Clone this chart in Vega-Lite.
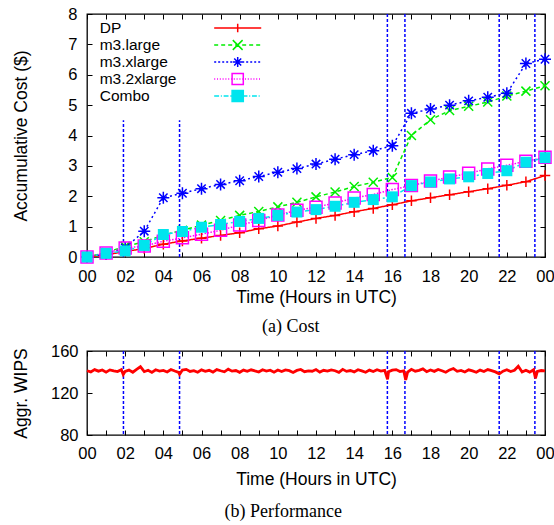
{
  "$schema": "https://vega.github.io/schema/vega-lite/v6.json",
  "background": "white",
  "padding": {"left": 11, "top": 5, "right": 0, "bottom": 0},
  "spacing": 5,
  "resolve": {"scale": {"shape": "independent", "color": "independent", "strokeDash": "independent", "stroke": "independent", "fill": "independent"}, "legend": {"shape": "independent", "color": "independent", "stroke": "independent", "fill": "independent"}},
  "datasets": {
    "cost": [
      {"hour":0,"series":"DP","cost":0},{"hour":1,"series":"DP","cost":0.07},{"hour":2,"series":"DP","cost":0.18},{"hour":3,"series":"DP","cost":0.28},{"hour":4,"series":"DP","cost":0.42},{"hour":5,"series":"DP","cost":0.53},{"hour":6,"series":"DP","cost":0.62},{"hour":7,"series":"DP","cost":0.71},{"hour":8,"series":"DP","cost":0.8},{"hour":9,"series":"DP","cost":0.93},{"hour":10,"series":"DP","cost":1.02},{"hour":11,"series":"DP","cost":1.15},{"hour":12,"series":"DP","cost":1.27},{"hour":13,"series":"DP","cost":1.37},{"hour":14,"series":"DP","cost":1.49},{"hour":15,"series":"DP","cost":1.6},{"hour":16,"series":"DP","cost":1.72},{"hour":17,"series":"DP","cost":1.85},{"hour":18,"series":"DP","cost":1.95},{"hour":19,"series":"DP","cost":2.05},{"hour":20,"series":"DP","cost":2.15},{"hour":21,"series":"DP","cost":2.25},{"hour":22,"series":"DP","cost":2.36},{"hour":23,"series":"DP","cost":2.48},{"hour":24,"series":"DP","cost":2.68},
      {"hour":0,"series":"m3.large","cost":0},{"hour":1,"series":"m3.large","cost":0.15},{"hour":2,"series":"m3.large","cost":0.35},{"hour":3,"series":"m3.large","cost":0.5},{"hour":4,"series":"m3.large","cost":0.72},{"hour":5,"series":"m3.large","cost":0.88},{"hour":6,"series":"m3.large","cost":1.05},{"hour":7,"series":"m3.large","cost":1.2},{"hour":8,"series":"m3.large","cost":1.37},{"hour":9,"series":"m3.large","cost":1.5},{"hour":10,"series":"m3.large","cost":1.65},{"hour":11,"series":"m3.large","cost":1.8},{"hour":12,"series":"m3.large","cost":1.98},{"hour":13,"series":"m3.large","cost":2.14},{"hour":14,"series":"m3.large","cost":2.32},{"hour":15,"series":"m3.large","cost":2.46},{"hour":16,"series":"m3.large","cost":2.62},{"hour":17,"series":"m3.large","cost":4.0},{"hour":18,"series":"m3.large","cost":4.52},{"hour":19,"series":"m3.large","cost":4.82},{"hour":20,"series":"m3.large","cost":4.96},{"hour":21,"series":"m3.large","cost":5.1},{"hour":22,"series":"m3.large","cost":5.3},{"hour":23,"series":"m3.large","cost":5.46},{"hour":24,"series":"m3.large","cost":5.64},
      {"hour":0,"series":"m3.xlarge","cost":0},{"hour":1,"series":"m3.xlarge","cost":0.1},{"hour":2,"series":"m3.xlarge","cost":0.3},{"hour":3,"series":"m3.xlarge","cost":0.85},{"hour":4,"series":"m3.xlarge","cost":1.95},{"hour":5,"series":"m3.xlarge","cost":2.1},{"hour":6,"series":"m3.xlarge","cost":2.25},{"hour":7,"series":"m3.xlarge","cost":2.39},{"hour":8,"series":"m3.xlarge","cost":2.51},{"hour":9,"series":"m3.xlarge","cost":2.65},{"hour":10,"series":"m3.xlarge","cost":2.79},{"hour":11,"series":"m3.xlarge","cost":2.91},{"hour":12,"series":"m3.xlarge","cost":3.06},{"hour":13,"series":"m3.xlarge","cost":3.22},{"hour":14,"series":"m3.xlarge","cost":3.37},{"hour":15,"series":"m3.xlarge","cost":3.5},{"hour":16,"series":"m3.xlarge","cost":3.66},{"hour":17,"series":"m3.xlarge","cost":4.73},{"hour":18,"series":"m3.xlarge","cost":4.87},{"hour":19,"series":"m3.xlarge","cost":5.0},{"hour":20,"series":"m3.xlarge","cost":5.14},{"hour":21,"series":"m3.xlarge","cost":5.26},{"hour":22,"series":"m3.xlarge","cost":5.39},{"hour":23,"series":"m3.xlarge","cost":6.37},{"hour":24,"series":"m3.xlarge","cost":6.51},
      {"hour":0,"series":"m3.2xlarge","cost":0},{"hour":1,"series":"m3.2xlarge","cost":0.13},{"hour":2,"series":"m3.2xlarge","cost":0.3},{"hour":3,"series":"m3.2xlarge","cost":0.36},{"hour":4,"series":"m3.2xlarge","cost":0.52},{"hour":5,"series":"m3.2xlarge","cost":0.63},{"hour":6,"series":"m3.2xlarge","cost":0.75},{"hour":7,"series":"m3.2xlarge","cost":0.88},{"hour":8,"series":"m3.2xlarge","cost":1.05},{"hour":9,"series":"m3.2xlarge","cost":1.2},{"hour":10,"series":"m3.2xlarge","cost":1.38},{"hour":11,"series":"m3.2xlarge","cost":1.54},{"hour":12,"series":"m3.2xlarge","cost":1.64},{"hour":13,"series":"m3.2xlarge","cost":1.78},{"hour":14,"series":"m3.2xlarge","cost":1.94},{"hour":15,"series":"m3.2xlarge","cost":2.06},{"hour":16,"series":"m3.2xlarge","cost":2.22},{"hour":17,"series":"m3.2xlarge","cost":2.35},{"hour":18,"series":"m3.2xlarge","cost":2.5},{"hour":19,"series":"m3.2xlarge","cost":2.63},{"hour":20,"series":"m3.2xlarge","cost":2.76},{"hour":21,"series":"m3.2xlarge","cost":2.9},{"hour":22,"series":"m3.2xlarge","cost":3.02},{"hour":23,"series":"m3.2xlarge","cost":3.15},{"hour":24,"series":"m3.2xlarge","cost":3.28},
      {"hour":0,"series":"Combo","cost":0},{"hour":1,"series":"Combo","cost":0.12},{"hour":2,"series":"Combo","cost":0.2},{"hour":3,"series":"Combo","cost":0.38},{"hour":4,"series":"Combo","cost":0.74},{"hour":5,"series":"Combo","cost":0.84},{"hour":6,"series":"Combo","cost":0.98},{"hour":7,"series":"Combo","cost":1.07},{"hour":8,"series":"Combo","cost":1.17},{"hour":9,"series":"Combo","cost":1.27},{"hour":10,"series":"Combo","cost":1.37},{"hour":11,"series":"Combo","cost":1.48},{"hour":12,"series":"Combo","cost":1.56},{"hour":13,"series":"Combo","cost":1.67},{"hour":14,"series":"Combo","cost":1.8},{"hour":15,"series":"Combo","cost":1.89},{"hour":16,"series":"Combo","cost":1.98},{"hour":17,"series":"Combo","cost":2.35},{"hour":18,"series":"Combo","cost":2.47},{"hour":19,"series":"Combo","cost":2.57},{"hour":20,"series":"Combo","cost":2.64},{"hour":21,"series":"Combo","cost":2.75},{"hour":22,"series":"Combo","cost":2.84},{"hour":23,"series":"Combo","cost":3.12},{"hour":24,"series":"Combo","cost":3.27}
    ],
    "events": [
      {"hour":1.91,"base":0,"top":4.5},{"hour":4.85,"base":0,"top":4.5},{"hour":15.74,"base":0,"top":8},{"hour":16.66,"base":0,"top":8},{"hour":21.6,"base":0,"top":8},{"hour":23.47,"base":0,"top":8}
    ],
    "wips": [
      {"hour":0,"wips":141.2},{"hour":0.2,"wips":140.1},{"hour":0.4,"wips":142.3},{"hour":0.6,"wips":140.8},{"hour":0.8,"wips":141.9},{"hour":1.0,"wips":139.9},{"hour":1.2,"wips":142.0},{"hour":1.4,"wips":141.1},{"hour":1.6,"wips":140.4},{"hour":1.8,"wips":142.2},{"hour":1.9,"wips":137.5},
      {"hour":2.0,"wips":140.6},{"hour":2.2,"wips":141.8},{"hour":2.4,"wips":139.8},{"hour":2.6,"wips":142.6},{"hour":2.8,"wips":145.0},{"hour":3.0,"wips":140.3},{"hour":3.2,"wips":141.7},{"hour":3.4,"wips":139.6},{"hour":3.6,"wips":142.1},{"hour":3.8,"wips":140.9},
      {"hour":4.0,"wips":141.5},{"hour":4.2,"wips":140.0},{"hour":4.4,"wips":142.4},{"hour":4.6,"wips":141.0},{"hour":4.8,"wips":139.7},{"hour":4.85,"wips":137.8},{"hour":5.0,"wips":141.9},{"hour":5.2,"wips":142.5},{"hour":5.4,"wips":140.5},{"hour":5.6,"wips":141.3},{"hour":5.8,"wips":139.8},
      {"hour":6.0,"wips":142.0},{"hour":6.2,"wips":140.7},{"hour":6.4,"wips":141.6},{"hour":6.6,"wips":139.9},{"hour":6.8,"wips":142.3},{"hour":7.0,"wips":141.2},{"hour":7.2,"wips":140.2},{"hour":7.4,"wips":142.7},{"hour":7.6,"wips":140.8},{"hour":7.8,"wips":141.4},
      {"hour":8.0,"wips":139.7},{"hour":8.2,"wips":141.8},{"hour":8.4,"wips":140.6},{"hour":8.6,"wips":142.1},{"hour":8.8,"wips":141.0},{"hour":9.0,"wips":140.0},{"hour":9.2,"wips":142.2},{"hour":9.4,"wips":140.9},{"hour":9.6,"wips":141.7},{"hour":9.8,"wips":139.8},
      {"hour":10.0,"wips":141.9},{"hour":10.2,"wips":140.4},{"hour":10.4,"wips":142.0},{"hour":10.6,"wips":141.3},{"hour":10.8,"wips":139.6},{"hour":11.0,"wips":141.5},{"hour":11.2,"wips":142.4},{"hour":11.4,"wips":140.3},{"hour":11.6,"wips":141.1},{"hour":11.8,"wips":140.7},
      {"hour":12.0,"wips":142.3},{"hour":12.2,"wips":139.9},{"hour":12.4,"wips":141.6},{"hour":12.6,"wips":140.8},{"hour":12.8,"wips":142.0},{"hour":13.0,"wips":141.2},{"hour":13.2,"wips":139.7},{"hour":13.4,"wips":142.5},{"hour":13.6,"wips":140.6},{"hour":13.8,"wips":141.4},
      {"hour":14.0,"wips":140.1},{"hour":14.2,"wips":142.2},{"hour":14.4,"wips":141.0},{"hour":14.6,"wips":139.8},{"hour":14.8,"wips":141.8},{"hour":15.0,"wips":140.5},{"hour":15.2,"wips":142.1},{"hour":15.4,"wips":140.9},{"hour":15.6,"wips":141.5},{"hour":15.75,"wips":133.0},{"hour":15.8,"wips":140.2},
      {"hour":16.0,"wips":141.7},{"hour":16.2,"wips":142.3},{"hour":16.4,"wips":140.4},{"hour":16.6,"wips":141.1},{"hour":16.7,"wips":132.5},{"hour":16.8,"wips":139.9},{"hour":17.0,"wips":142.6},{"hour":17.2,"wips":140.8},{"hour":17.4,"wips":141.6},{"hour":17.6,"wips":143.0},{"hour":17.8,"wips":140.3},
      {"hour":18.0,"wips":141.9},{"hour":18.2,"wips":140.6},{"hour":18.4,"wips":142.4},{"hour":18.6,"wips":141.2},{"hour":18.8,"wips":139.8},{"hour":19.0,"wips":142.0},{"hour":19.2,"wips":143.3},{"hour":19.4,"wips":140.7},{"hour":19.6,"wips":141.5},{"hour":19.8,"wips":140.0},
      {"hour":20.0,"wips":142.1},{"hour":20.2,"wips":141.0},{"hour":20.4,"wips":139.7},{"hour":20.6,"wips":141.8},{"hour":20.8,"wips":140.5},{"hour":21.0,"wips":142.3},{"hour":21.2,"wips":141.3},{"hour":21.4,"wips":140.1},{"hour":21.6,"wips":138.3},{"hour":21.8,"wips":140.8},
      {"hour":22.0,"wips":142.2},{"hour":22.2,"wips":140.4},{"hour":22.4,"wips":141.6},{"hour":22.6,"wips":145.5},{"hour":22.8,"wips":140.0},{"hour":23.0,"wips":141.7},{"hour":23.2,"wips":139.9},{"hour":23.4,"wips":142.1},{"hour":23.5,"wips":134.0},{"hour":23.6,"wips":140.6},{"hour":23.8,"wips":141.4},{"hour":24.0,"wips":141.0}
    ]
  },
  "vconcat": [
    {
      "width": 458,
      "height": 243,
      "title": {"text": "(a) Cost", "orient": "bottom", "anchor": "middle", "frame": "bounds", "font": "Liberation Serif", "fontSize": 18, "fontWeight": "normal", "color": "black", "offset": 12},
      "layer": [
        {
          "data": {"name": "events"},
          "mark": {"type": "rule", "color": "#0000ff", "strokeDash": [3, 2], "strokeWidth": 1.5},
          "encoding": {
            "x": {"field": "hour", "type": "quantitative", "scale": {"domain": [0, 24], "nice": false, "zero": false},
              "axis": {"orient": "bottom", "values": [0,1,2,3,4,5,6,7,8,9,10,11,12,13,14,15,16,17,18,19,20,21,22,23,24], "labelExpr": "datum.value % 2 ? '' : ((datum.value % 24) < 10 ? '0' : '') + (datum.value % 24)", "labelFlush": false, "labelOverlap": false, "labelPadding": 16, "title": "Time (Hours in UTC)", "titlePadding": 4}},
            "y": {"field": "base", "type": "quantitative", "scale": {"domain": [0, 8], "nice": false},
              "axis": {"orient": "left", "values": [0,1,2,3,4,5,6,7,8], "labelFlush": false, "labelOverlap": false, "labelPadding": 15, "title": "Accumulative Cost ($)", "titlePadding": 37}},
            "y2": {"field": "top"}
          }
        },
        {
          "data": {"name": "cost"},
          "mark": {"type": "line", "strokeWidth": 1.5},
          "encoding": {
            "x": {"field": "hour", "type": "quantitative", "axis": {"orient": "top", "values": [0,1,2,3,4,5,6,7,8,9,10,11,12,13,14,15,16,17,18,19,20,21,22,23,24], "labels": false, "title": null}},
            "y": {"field": "cost", "type": "quantitative", "axis": {"orient": "right", "values": [0,1,2,3,4,5,6,7,8], "labels": false, "title": null}},
            "color": {"field": "series", "type": "nominal", "scale": {"domain": ["Combo", "m3.2xlarge", "m3.xlarge", "m3.large", "DP"], "range": ["#00e5ee", "#ff00ff", "#0000ff", "#00ee00", "#ff0000"]}, "legend": null},
            "strokeDash": {"field": "series", "type": "nominal", "scale": {"domain": ["m3.large", "DP", "Combo", "m3.xlarge", "m3.2xlarge"], "range": [[4, 3], [1, 0], [6, 3, 2, 3], [2, 3], [1.5, 1.5]]}, "legend": null}
          }
        },
        {
          "data": {"name": "cost"},
          "transform": [{"filter": "datum.series === 'DP'"}],
          "mark": {"type": "point", "shape": "M-1,0H1M0,-1V1", "filled": false, "color": "#ff0000", "strokeWidth": 1.5, "size": 110, "opacity": 1},
          "encoding": {
            "x": {"field": "hour", "type": "quantitative", "axis": null},
            "y": {"field": "cost", "type": "quantitative", "axis": null}
          }
        },
        {
          "data": {"name": "cost"},
          "transform": [{"filter": "datum.series === 'm3.large'"}],
          "mark": {"type": "point", "shape": "M-1,-1L1,1M-1,1L1,-1", "filled": false, "color": "#00ee00", "strokeWidth": 1.5, "size": 81, "opacity": 1},
          "encoding": {
            "x": {"field": "hour", "type": "quantitative", "axis": null},
            "y": {"field": "cost", "type": "quantitative", "axis": null}
          }
        },
        {
          "data": {"name": "cost"},
          "transform": [{"filter": "datum.series === 'm3.xlarge'"}],
          "mark": {"type": "point", "shape": "M-1,0H1M0,-1V1M-0.7,-0.7L0.7,0.7M-0.7,0.7L0.7,-0.7", "filled": false, "color": "#0000ff", "strokeWidth": 1.5, "size": 144, "opacity": 1},
          "encoding": {
            "x": {"field": "hour", "type": "quantitative", "axis": null},
            "y": {"field": "cost", "type": "quantitative", "axis": null}
          }
        },
        {
          "data": {"name": "cost"},
          "transform": [{"filter": "datum.series === 'm3.2xlarge'"}],
          "mark": {"type": "point", "shape": "M-1,-1H1V1H-1Z", "filled": false, "color": "#ff00ff", "strokeWidth": 1.5, "size": 144, "opacity": 1},
          "encoding": {
            "x": {"field": "hour", "type": "quantitative", "axis": null},
            "y": {"field": "cost", "type": "quantitative", "axis": null}
          }
        },
        {
          "data": {"name": "cost"},
          "transform": [{"filter": "datum.series === 'Combo'"}],
          "mark": {"type": "point", "shape": "square", "filled": true, "color": "#00e5ee", "size": 121, "opacity": 1},
          "encoding": {
            "x": {"field": "hour", "type": "quantitative", "axis": null},
            "y": {"field": "cost", "type": "quantitative", "axis": null}
          }
        },
        {
          "data": {"name": "cost"},
          "mark": {"type": "point", "filled": false, "size": 196, "opacity": 0},
          "encoding": {
            "x": {"field": "hour", "type": "quantitative", "axis": null},
            "y": {"field": "cost", "type": "quantitative", "axis": null},
            "stroke": {"field": "series", "type": "nominal",
              "scale": {"domain": ["DP", "m3.large", "m3.xlarge", "m3.2xlarge", "Combo"], "range": ["#ff0000", "#00ee00", "#0000ff", "#ff00ff", "#00e5ee"]}},
            "fill": {"field": "series", "type": "nominal",
              "scale": {"domain": ["DP", "m3.large", "m3.xlarge", "m3.2xlarge", "Combo"], "range": ["transparent", "transparent", "transparent", "transparent", "#00e5ee"]}},
            "shape": {"field": "series", "type": "nominal",
              "scale": {"domain": ["DP", "m3.large", "m3.xlarge", "m3.2xlarge", "Combo"],
                "range": [
                  "M-3.36,0H3.36M0,-0.6V0.6",
                  "M-3.36,0H-2.79M-2.36,0H-1.79M-1.36,0H-0.79M-0.36,0H0.21M0.64,0H1.21M1.64,0H2.21M2.64,0H3.21M-0.7,-0.7L0.7,0.7M-0.7,0.7L0.7,-0.7",
                  "M-3.36,0H-3.07M-2.79,0H-2.5M-2.21,0H-1.93M-1.64,0H-1.36M-1.07,0H-0.79M-0.5,0H-0.21M0.07,0H0.36M0.64,0H0.93M1.21,0H1.5M1.79,0H2.07M2.36,0H2.64M2.93,0H3.21M-0.7,0H0.7M0,-0.7V0.7M-0.5,-0.5L0.5,0.5M-0.5,0.5L0.5,-0.5",
                  "M-3.36,0H-3.21M-2.96,0H-2.81M-2.56,0H-2.41M-2.16,0H-2.01M-1.76,0H-1.61M-1.36,0H-1.21M-0.96,0H-0.81M-0.56,0H-0.41M-0.16,0H-0.01M0.24,0H0.39M0.64,0H0.79M1.04,0H1.19M1.44,0H1.59M1.84,0H1.99M2.24,0H2.39M2.64,0H2.79M3.04,0H3.19M-0.8,-0.8H0.8V0.8H-0.8Z",
                  "M-3.36,0H-2.66M-2.41,0H-2.26M-2.01,0H-1.31M-1.06,0H-0.91M-0.66,0H0.04M0.29,0H0.44M0.69,0H1.39M1.64,0H1.79M2.04,0H2.74M2.99,0H3.14M-0.8,-0.8H0.8V0.8H-0.8Z"
                ]},
              "legend": {
                "title": null, "orient": "none", "legendX": -3.3, "legendY": 6, "padding": 0,
                "symbolSize": 196, "symbolOffset": 146, "labelOffset": -146, "rowPadding": -1.5,
                "symbolOpacity": 1,
                "labelFont": "Liberation Sans", "labelFontSize": 15.5, "labelColor": "black",
                "symbolStrokeWidth": 1.5,
                "encode": {"symbols": {"update": {"opacity": {"value": 1}}}}
              }}
          }
        }
      ],
      "resolve": {"axis": {"x": "independent", "y": "independent"}}
    },
    {
      "width": 458,
      "height": 84,
      "title": {"text": "(b) Performance", "orient": "bottom", "anchor": "middle", "frame": "bounds", "font": "Liberation Serif", "fontSize": 18, "fontWeight": "normal", "color": "black", "offset": 15},
      "layer": [
        {
          "data": {"name": "events"},
          "mark": {"type": "rule", "color": "#0000ff", "strokeDash": [3, 2], "strokeWidth": 1.5},
          "encoding": {
            "x": {"field": "hour", "type": "quantitative", "scale": {"domain": [0, 24], "nice": false, "zero": false},
              "axis": {"orient": "bottom", "values": [0,1,2,3,4,5,6,7,8,9,10,11,12,13,14,15,16,17,18,19,20,21,22,23,24], "labelExpr": "datum.value % 2 ? '' : ((datum.value % 24) < 10 ? '0' : '') + (datum.value % 24)", "labelFlush": false, "labelOverlap": false, "labelPadding": 15, "title": "Time (Hours in UTC)", "titlePadding": 9}}
          }
        },
        {
          "data": {"name": "wips"},
          "mark": {"type": "line", "color": "#ff0000", "strokeWidth": 2.8},
          "encoding": {
            "x": {"field": "hour", "type": "quantitative", "axis": {"orient": "top", "values": [0,1,2,3,4,5,6,7,8,9,10,11,12,13,14,15,16,17,18,19,20,21,22,23,24], "labels": false, "title": null}},
            "y": {"field": "wips", "type": "quantitative", "scale": {"domain": [80, 160], "nice": false, "zero": false},
              "axis": {"orient": "left", "values": [80, 120, 160], "labelFlush": false, "labelOverlap": false, "labelPadding": 14, "title": "Aggr. WIPS", "titlePadding": 20}}
          }
        },
        {
          "data": {"name": "wips"},
          "mark": {"type": "line", "color": "#ff0000", "strokeWidth": 2.5, "opacity": 0},
          "encoding": {
            "x": {"field": "hour", "type": "quantitative", "axis": null},
            "y": {"field": "wips", "type": "quantitative", "axis": {"orient": "right", "values": [80, 120, 160], "labels": false, "title": null}}
          }
        }
      ],
      "resolve": {"axis": {"x": "independent", "y": "independent"}}
    }
  ],
  "config": {
    "font": "Liberation Sans",
    "view": {"stroke": "black", "strokeWidth": 1.3},
    "axis": {"grid": false, "domain": false, "ticks": true, "tickColor": "black", "tickSize": -5, "tickWidth": 1,
      "labelFont": "Liberation Sans", "labelFontSize": 16.5, "labelColor": "black",
      "titleFont": "Liberation Sans", "titleFontSize": 17.5, "titleFontWeight": "normal", "titleColor": "black"}
  }
}
